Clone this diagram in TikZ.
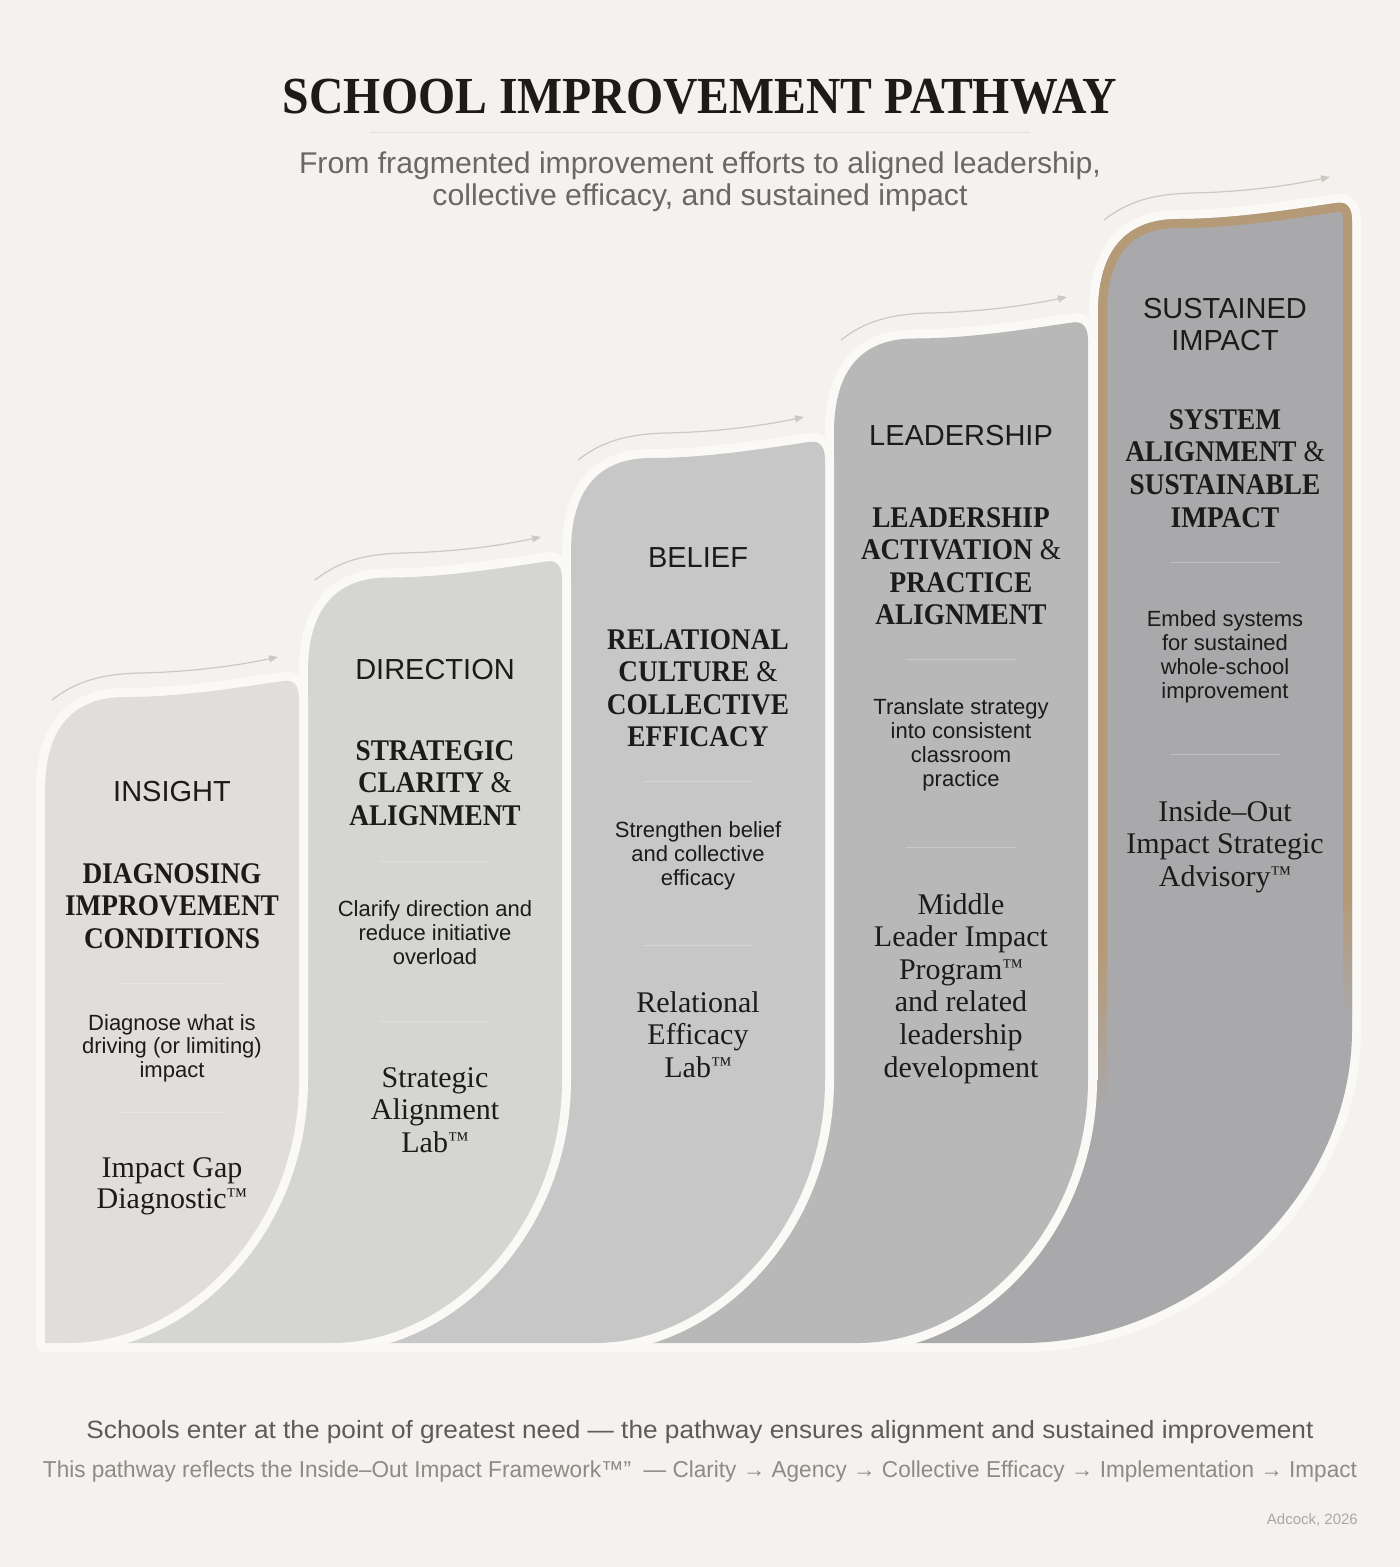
\documentclass[tikz,border=0pt]{standalone}
\usepackage{fontspec}
\usepackage{graphicx}
\usetikzlibrary{arrows.meta}
\setmainfont{Liberation Serif}
\setsansfont{Liberation Sans}
\newfontfamily\titlefont[FakeStretch=0.9]{Liberation Serif}
\newfontfamily\headfont[FakeStretch=0.91]{Liberation Serif}
\newfontfamily\prodfont{Liberation Serif}
\newfontfamily\sansf{Liberation Sans}

\definecolor{bg}{HTML}{F4F2EE}
\definecolor{haloc}{HTML}{FAF9F6}
\definecolor{cA}{HTML}{DFDEDB}
\definecolor{cB}{HTML}{D5D5D4}
\definecolor{cC}{HTML}{C8C7C8}
\definecolor{cD}{HTML}{B8B8B9}
\definecolor{cE}{HTML}{A9A8AB}
\definecolor{tanc}{HTML}{B59A78}
\definecolor{ink}{HTML}{1C1B1A}
\definecolor{subc}{HTML}{6B6762}
\definecolor{foota}{HTML}{5F5B56}
\definecolor{footb}{HTML}{8E8A85}
\definecolor{footc}{HTML}{ABA7A1}
\definecolor{arr}{HTML}{CCC9C3}
\definecolor{rulec}{HTML}{E4E1DB}

\newcommand\toppath[2]{(#1,{#2+110}) .. controls (#1,{#2+45}) and ({#1+30},{#2+16}) .. ({#1+80},{#2+16}) .. controls ({#1+135},{#2+16}) and ({#1+190},{#2+7}) .. ({#1+238},#2) .. controls ({#1+250},{#2-2}) and ({#1+254},{#2+6}) .. ({#1+254},{#2+18})}
\newcommand\botpath[5]{-- (#1,#2) .. controls (#1,{#2+#3}) and ({#1-#4+#5},1343) .. ({#1-#4},1343)}
\newcommand\tm{\raisebox{0.2em}{\scalebox{0.7}{™}}}

\newcommand\txtlines[6]{%
  \foreach \myline [count=\mynum] in {#6} {
    \node[#5, anchor=base] (#1-\mynum) at (#2, {#3+(\mynum-1)*#4}) {\myline};
  }}

\tikzset{
  lbl/.style={font=\sansf\fontsize{29}{32}\selectfont, text=ink, inner sep=0pt, outer sep=0pt},
  head/.style={font=\headfont\bfseries\fontsize{30}{32}\selectfont, text=ink, inner sep=0pt, outer sep=0pt},
  desc/.style={font=\sansf\fontsize{22}{24}\selectfont, text=ink, inner sep=0pt, outer sep=0pt},
  prod/.style={font=\prodfont\fontsize{30}{32}\selectfont, text=ink, inner sep=0pt, outer sep=0pt},
  halo/.style={draw=haloc, line width=18pt, line join=round},
  sepline/.style={draw=white, opacity=0.25, line width=1pt},
  flow/.style={draw=arr, line width=1.2pt, -{Triangle[length=9pt,width=7pt]}},
}

\begin{document}
\begin{tikzpicture}[x=1pt,y=-1pt]
\useasboundingbox (0,0) rectangle (1400,1567);
\fill[bg] (0,0) rectangle (1400,1567);

% ---------- title ----------
\node[anchor=base, inner sep=0pt, text=ink, font=\titlefont\bfseries\fontsize{52}{56}\selectfont] (title) at (700,113) {\resizebox{834pt}{\height}{SCHOOL IMPROVEMENT PATHWAY}};
\draw[draw=rulec, line width=1pt] (370,132) -- (1030,132);
\node[anchor=base, inner sep=0pt, text=subc, font=\sansf\fontsize{30}{32}\selectfont] (sub1) at (700,173) {\resizebox{802pt}{\height}{From fragmented improvement efforts to aligned leadership,}};
\node[anchor=base, inner sep=0pt, text=subc, font=\sansf\fontsize{30}{32}\selectfont] (sub2) at (700,205) {\resizebox{535pt}{\height}{collective efficacy, and sustained impact}};

% ---------- column 5 ----------
\draw[halo] (1098,1080) -- \toppath{1098}{203} \botpath{1352}{1030}{170}{330}{170} -- (45,1343);
\fill[cE] (45,1343) -- (45,1080) -- (1098,1080) -- \toppath{1098}{203} \botpath{1352}{1030}{170}{330}{170} -- cycle;
\begin{scope}
  \clip (45,1343) -- (45,1080) -- (1098,1080) -- \toppath{1098}{203} \botpath{1352}{1030}{170}{330}{170} -- cycle;
  \draw[draw=tanc, line width=18pt] (1098,950) -- \toppath{1098}{203} -- (1352,900);
\end{scope}
\shade[top color=tanc, bottom color=cE] (1098,950) rectangle (1107,1110);
\shade[top color=tanc, bottom color=cE] (1343,900) rectangle (1352,1015);

% ---------- column 4 ----------
\draw[halo] (834,1080) -- \toppath{834}{322.5} \botpath{1088}{1080}{150}{230}{115} -- (45,1343);
\fill[cD] (45,1343) -- (45,1080) -- (834,1080) -- \toppath{834}{322.5} \botpath{1088}{1080}{150}{230}{115} -- cycle;

% ---------- column 3 ----------
\draw[halo] (571,1080) -- \toppath{571}{442} \botpath{825}{1080}{150}{230}{115} -- (45,1343);
\fill[cC] (45,1343) -- (45,1080) -- (571,1080) -- \toppath{571}{442} \botpath{825}{1080}{150}{230}{115} -- cycle;

% ---------- column 2 ----------
\draw[halo] (308,1080) -- \toppath{308}{561.5} \botpath{562}{1080}{150}{230}{115} -- (45,1343);
\fill[cB] (45,1343) -- (45,1080) -- (308,1080) -- \toppath{308}{561.5} \botpath{562}{1080}{150}{230}{115} -- cycle;

% ---------- column 1 ----------
\draw[halo] (45,1343) -- \toppath{45}{681} \botpath{299}{1080}{150}{230}{115} -- cycle;
\fill[cA] (45,1343) -- \toppath{45}{681} \botpath{299}{1080}{150}{230}{115} -- cycle;

% ---------- separators ----------
\draw[sepline] (117,983) -- (227,983);
\draw[sepline] (117,1112) -- (227,1112);
\draw[sepline] (380,861) -- (490,861);
\draw[sepline] (380,1021) -- (490,1021);
\draw[sepline] (643,781) -- (753,781);
\draw[sepline] (643,945) -- (753,945);
\draw[sepline] (906,659) -- (1016,659);
\draw[sepline] (906,847) -- (1016,847);
\draw[sepline] (1170,562) -- (1280,562);
\draw[sepline] (1170,754) -- (1280,754);

% ---------- flow arrows ----------
\foreach \k in {0,...,4} {
  \begin{scope}[shift={({263*\k},{-120*\k})}]
    \coordinate (as\k) at (52,700);
    \coordinate (am\k) at (140,673);
    \coordinate (ae\k) at (278,657);
    \draw[flow] (as\k) .. controls +(23,-18) and +(-40,1) .. (am\k) .. controls +(50,-1) and +(-43,9) .. (ae\k);
  \end{scope}
}

% ---------- column texts ----------
\txtlines{c1l}{172}{801}{32}{lbl}{{INSIGHT}}
\txtlines{c1h}{172}{883}{32.5}{head}{{DIAGNOSING},{IMPROVEMENT},{CONDITIONS}}
\txtlines{c1d}{172}{1030}{23.8}{desc}{{Diagnose what is},{driving (or limiting)},{impact}}
\txtlines{c1p}{172}{1177}{31.5}{prod}{{Impact Gap},{Diagnostic\tm}}

\txtlines{c2l}{435}{679}{32}{lbl}{{DIRECTION}}
\txtlines{c2h}{435}{760}{32.5}{head}{{STRATEGIC},{CLARITY {\mdseries\&}},{ALIGNMENT}}
\txtlines{c2d}{435}{916}{24}{desc}{{Clarify direction and},{reduce initiative},{overload}}
\txtlines{c2p}{435}{1087}{32.5}{prod}{{Strategic},{Alignment},{Lab\tm}}

\txtlines{c3l}{698}{567}{32}{lbl}{{BELIEF}}
\txtlines{c3h}{698}{649}{32.5}{head}{{RELATIONAL},{CULTURE {\mdseries\&}},{COLLECTIVE},{EFFICACY}}
\txtlines{c3d}{698}{837}{24}{desc}{{Strengthen belief},{and collective},{efficacy}}
\txtlines{c3p}{698}{1012}{32.5}{prod}{{Relational},{Efficacy},{Lab\tm}}

\txtlines{c4l}{961}{445}{32}{lbl}{{LEADERSHIP}}
\txtlines{c4h}{961}{527}{32.5}{head}{{LEADERSHIP},{ACTIVATION {\mdseries\&}},{PRACTICE},{ALIGNMENT}}
\txtlines{c4d}{961}{714}{24.3}{desc}{{Translate strategy},{into consistent},{classroom},{practice}}
\txtlines{c4p}{961}{914}{32.6}{prod}{{Middle},{Leader Impact},{Program\tm},{and related},{leadership},{development}}

\txtlines{c5l}{1225}{318}{32}{lbl}{{SUSTAINED},{IMPACT}}
\txtlines{c5h}{1225}{429}{32.7}{head}{{SYSTEM},{ALIGNMENT {\mdseries\&}},{SUSTAINABLE},{IMPACT}}
\txtlines{c5d}{1225}{626}{24.3}{desc}{{Embed systems},{for sustained},{whole-school},{improvement}}
\txtlines{c5p}{1225}{821}{32.5}{prod}{{Inside–Out},{Impact Strategic},{Advisory\tm}}

% ---------- footer ----------
\node[anchor=base, inner sep=0pt, text=foota, font=\sansf\fontsize{25}{28}\selectfont] (foot1) at (700,1438) {\resizebox{1227pt}{\height}{Schools enter at the point of greatest need — the pathway ensures alignment and sustained improvement}};
\node[anchor=base, inner sep=0pt, text=footb, font=\sansf\fontsize{23}{26}\selectfont] (foot2) at (700,1477) {\resizebox{1314pt}{\height}{This pathway reflects the Inside–Out Impact Framework™” \ — Clarity → Agency → Collective Efficacy → Implementation → Impact}};
\node[anchor=base east, inner sep=0pt, text=footc, font=\sansf\fontsize{15}{18}\selectfont] (foot3) at (1358,1524) {Adcock, 2026};
\end{tikzpicture}
\end{document}
